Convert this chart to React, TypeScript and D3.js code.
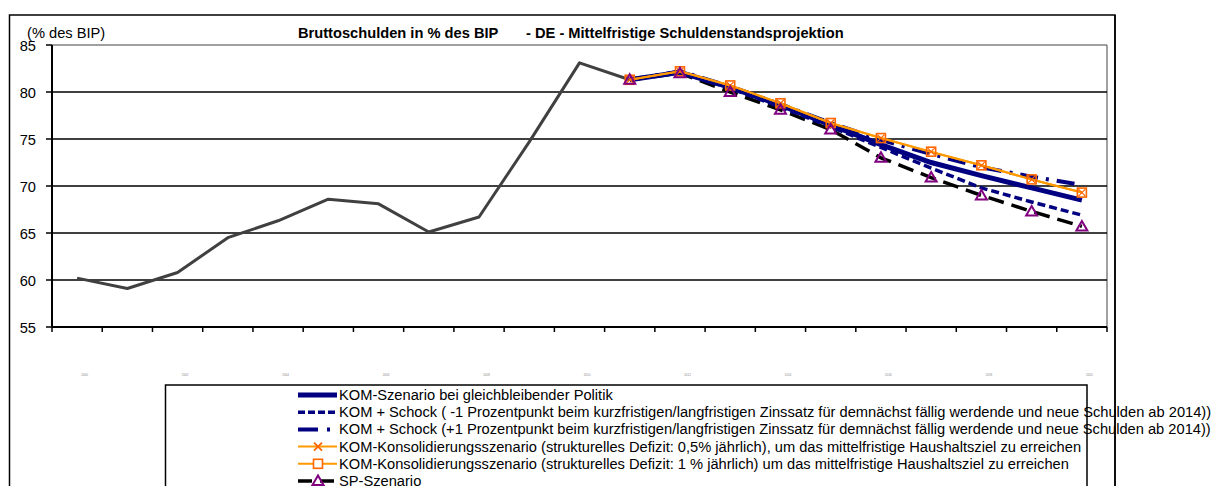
import React from "react";
import * as d3 from "d3";

const years = d3.range(2000, 2021).map(String);
const histYears = years.slice(0, 12);
const historical = [60.2, 59.1, 60.8, 64.5, 66.3, 68.6, 68.1, 65.1, 66.7, 74.7, 83.1, 81.3];
const projYears = years.slice(11);
const komBase = [81.3, 82.1, 80.5, 78.6, 76.5, 74.4, 72.5, 71.1, 69.8, 68.5];
const komMinus1 = [81.3, 82.1, 80.4, 78.4, 76.3, 74.1, 71.9, 69.8, 68.3, 66.9];
const komPlus1 = [81.3, 82.2, 80.6, 78.7, 76.7, 74.9, 73.4, 72.0, 71.0, 70.1];
const konsol05 = [81.3, 82.2, 80.7, 78.8, 76.7, 75.1, 73.6, 72.2, 70.7, 69.3];
const konsol1 = [81.3, 82.2, 80.7, 78.8, 76.7, 75.1, 73.65, 72.2, 70.7, 69.3];
const spScenario = [81.3, 82.0, 80.0, 78.1, 76.0, 73.0, 70.9, 69.0, 67.3, 65.7];
const yTicks = [55, 60, 65, 70, 75, 80, 85];
const legendLabels = [
  "KOM-Szenario bei gleichbleibender Politik",
  "KOM + Schock ( -1 Prozentpunkt beim kurzfristigen/langfristigen Zinssatz für demnächst fällig werdende und neue Schulden ab 2014))",
  "KOM + Schock (+1 Prozentpunkt beim kurzfristigen/langfristigen Zinssatz für demnächst fällig werdende und neue Schulden ab 2014))",
  "KOM-Konsolidierungsszenario (strukturelles Defizit: 0,5% jährlich), um das mittelfristige Haushaltsziel zu erreichen",
  "KOM-Konsolidierungsszenario (strukturelles Defizit: 1 % jährlich) um das mittelfristige Haushaltsziel zu erreichen",
  "SP-Szenario",
];

const FONT = "'Liberation Sans', Arial, sans-serif";
const NAVY = "#000080";
const ORANGE_LINE = "#FF9900";
const ORANGE_MARK = "#FF6600";
const PURPLE = "#800080";

export default function App() {
  const L = 52, R = 1107, T = 45, B = 327;
  const x = d3.scaleBand<string>().domain(years).range([L, R]);
  const cx = (yr: string) => (x(yr) as number) + x.bandwidth() / 2;
  const y = d3.scaleLinear().domain([55, 85]).range([B, T]);

  const mk = (ys: string[]) =>
    d3
      .line<number>()
      .x((_, i) => cx(ys[i]))
      .y((d) => y(d));

  const histPath = mk(histYears)(historical) as string;
  const proj = mk(projYears);

  const square = (px: number, py: number, key: string, withX: boolean) => (
    <g key={key}>
      <rect x={px - 4.5} y={py - 4.5} width={9} height={9} fill="none" stroke={ORANGE_MARK} strokeWidth={1.6} />
      {withX && (
        <path
          d={`M${px - 3.5},${py - 3.5}L${px + 3.5},${py + 3.5}M${px - 3.5},${py + 3.5}L${px + 3.5},${py - 3.5}`}
          stroke={ORANGE_MARK}
          strokeWidth={1.2}
        />
      )}
    </g>
  );
  const tri = (px: number, py: number, key: string) => (
    <path
      key={key}
      d={`M${px},${py - 5.5}L${px + 5.5},${py + 4}L${px - 5.5},${py + 4}Z`}
      fill="none"
      stroke={PURPLE}
      strokeWidth={2}
    />
  );

  const legX0 = 298, legX1 = 337, legTextX = 339;
  const rowY = (i: number) => 395 + i * 17.2;

  return (
    <svg width={1220} height={486} style={{ position: "absolute", left: 0, top: 0, background: "#fff" }}>
      <rect x={0} y={0} width={1220} height={486} fill="#fff" />
      {/* outer border */}
      <rect x={9.5} y={15} width={1105.5} height={500} fill="none" stroke="#000" strokeWidth={1.5} />

      {/* titles */}
      <text x={27} y={37.5} fontFamily={FONT} fontSize={14.67} fill="#000">(% des BIP)</text>
      <text x={298} y={37.5} fontFamily={FONT} fontSize={14.67} fontWeight="bold" fill="#000">
        Bruttoschulden in % des BIP
      </text>
      <text x={526} y={37.5} fontFamily={FONT} fontSize={14.67} fontWeight="bold" fill="#000">
        - DE - Mittelfristige Schuldenstandsprojektion
      </text>

      {/* plot area border (gray) */}
      <line x1={L} x2={R} y1={T} y2={T} stroke="#808080" strokeWidth={1.5} />
      <line x1={R} x2={R} y1={T} y2={B} stroke="#808080" strokeWidth={1.5} />

      {/* gridlines */}
      {yTicks
        .filter((t) => t !== 55 && t !== 85)
        .map((t) => (
          <line key={t} x1={L} x2={R} y1={y(t)} y2={y(t)} stroke="#000" strokeWidth={1.3} />
        ))}

      {/* y axis */}
      <line x1={L} x2={L} y1={T} y2={B} stroke="#000" strokeWidth={2} />
      {yTicks.map((t) => (
        <g key={t}>
          <line x1={L - 6} x2={L} y1={y(t)} y2={y(t)} stroke="#000" strokeWidth={1.5} />
          <text x={36} y={y(t) + 6} textAnchor="end" fontFamily={FONT} fontSize={14.67} fill="#000">
            {t}
          </text>
        </g>
      ))}

      {/* x axis */}
      <line x1={L} x2={R} y1={B} y2={B} stroke="#000" strokeWidth={2} />
      {years.concat(["end"]).map((yr, i) => {
        const px = i < years.length ? (x(yr) as number) : R;
        return <line key={"t" + i} x1={px} x2={px} y1={B} y2={B + 5} stroke="#000" strokeWidth={1.5} />;
      })}
      {years
        .filter((_, i) => i % 2 === 0)
        .map((yr) => (
          <text key={"xl" + yr} x={cx(yr) + 7.5} y={376} textAnchor="middle" fontFamily={FONT} fontSize={3} fill="#888">
            {yr}
          </text>
        ))}

      {/* historical */}
      <path d={histPath} fill="none" stroke="#404040" strokeWidth={3} strokeLinejoin="round" />

      {/* SP scenario */}
      <path d={proj(spScenario) as string} fill="none" stroke="#000" strokeWidth={3.5} strokeDasharray="16,8" />
      {/* KOM -1 */}
      <path d={proj(komMinus1) as string} fill="none" stroke={NAVY} strokeWidth={3.5} strokeDasharray="8,4" />
      {/* KOM base */}
      <path d={proj(komBase) as string} fill="none" stroke={NAVY} strokeWidth={5} />
      {/* KOM +1 */}
      <path d={proj(komPlus1) as string} fill="none" stroke={NAVY} strokeWidth={4} strokeDasharray="18,8,3,8" />
      {/* Konsolidierung */}
      <path d={proj(konsol05) as string} fill="none" stroke={ORANGE_LINE} strokeWidth={2} />
      <path d={proj(konsol1) as string} fill="none" stroke={ORANGE_LINE} strokeWidth={2} />

      {konsol1.map((v, i) => square(cx(projYears[i]), y(v), "sq" + i, true))}
      {spScenario.map((v, i) => tri(cx(projYears[i]), y(v), "tr" + i))}

      {/* legend */}
      <rect x={165.5} y={385} width={921.5} height={130} fill="#fff" stroke="#000" strokeWidth={1.5} />
      {legendLabels.map((lab, i) => {
        const ry = rowY(i);
        let sym: React.ReactNode = null;
        if (i === 0) sym = <line x1={legX0} x2={legX1} y1={ry} y2={ry} stroke={NAVY} strokeWidth={5} />;
        if (i === 1)
          sym = <line x1={legX0} x2={legX1} y1={ry} y2={ry} stroke={NAVY} strokeWidth={3.5} strokeDasharray="7,3" />;
        if (i === 2)
          sym = <line x1={legX0} x2={legX1} y1={ry} y2={ry} stroke={NAVY} strokeWidth={4} strokeDasharray="20,9,3,20" />;
        if (i === 3)
          sym = (
            <g>
              <line x1={legX0} x2={legX1} y1={ry} y2={ry} stroke={ORANGE_LINE} strokeWidth={2} />
              <path
                d={`M${318 - 4},${ry - 4}L${318 + 4},${ry + 4}M${318 - 4},${ry + 4}L${318 + 4},${ry - 4}`}
                stroke={ORANGE_MARK}
                strokeWidth={1.8}
              />
            </g>
          );
        if (i === 4)
          sym = (
            <g>
              <line x1={legX0} x2={legX1} y1={ry} y2={ry} stroke={ORANGE_LINE} strokeWidth={2} />
              <rect x={318 - 4.5} y={ry - 4.5} width={9} height={9} fill="#fff" stroke={ORANGE_MARK} strokeWidth={1.6} />
            </g>
          );
        if (i === 5)
          sym = (
            <g>
              <line x1={legX0} x2={legX1} y1={ry} y2={ry} stroke="#000" strokeWidth={3.5} strokeDasharray="14,8" />
              {tri(318, ry, "ltri")}
            </g>
          );
        return (
          <g key={"leg" + i}>
            {sym}
            <text x={legTextX} y={ry + 5} fontFamily={FONT} fontSize={14.67} fill="#000">
              {lab}
            </text>
          </g>
        );
      })}
      {/* outer border right edge drawn over legend text overflow */}
      <line x1={1115} x2={1115} y1={15} y2={486} stroke="#000" strokeWidth={1.5} />
    </svg>
  );
}
